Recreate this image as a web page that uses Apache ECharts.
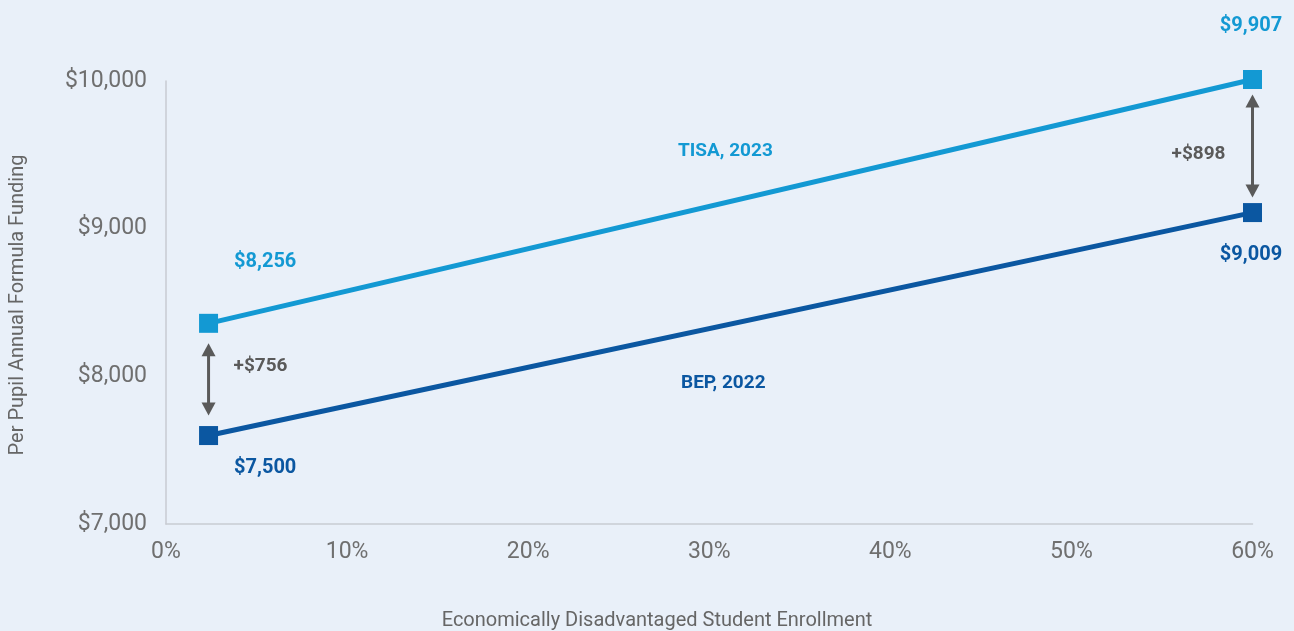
<!DOCTYPE html>
<html>
<head>
<meta charset="utf-8">
<script src="https://cdn.jsdelivr.net/npm/echarts@6/dist/echarts.min.js"></script>
<style>
html,body{margin:0;padding:0;background:#e9f0f9;}
#chart{width:1294px;height:631px;}
</style>
</head>
<body>
<div id="chart"></div>
<script>
// ---- data ----
const xValues = [2.35, 60];                 // % economically disadvantaged
const tisaValues = [8359, 10010];           // plotted positions
const bepValues = [7599, 9109];
const tisaLabels = ['$8,256', '$9,907'];
const bepLabels = ['$7,500', '$9,009'];
const diffLabels = ['+$756', '+$898'];
const seriesNames = ['TISA, 2023', 'BEP, 2022'];
const yTicks = [7000, 8000, 9000, 10000];
const xTicks = [0, 10, 20, 30, 40, 50, 60];
const xTitle = 'Economically Disadvantaged Student Enrollment';
const yTitle = 'Per Pupil Annual Formula Funding';

const TISA_COLOR = '#1399d3';
const BEP_COLOR = '#0b57a1';
const GRAY = '#5a5a5a';
const FONT = 'Roboto, "DejaVu Sans", sans-serif';

const chart = echarts.init(document.getElementById('chart'));

const tisaPosStyle = [
  {position: [35, -52], align: 'left'},
  {position: [8, -44], align: 'center'}
];
const bepPosStyle = [
  {position: [35, 42], align: 'left'},
  {position: [8, 52], align: 'center'}
];

function pts(vals, labels, posStyle, color) {
  return xValues.map((x, i) => ({
    value: [x, vals[i]],
    label: {
      show: true,
      formatter: labels[i],
      position: posStyle[i].position,
      align: posStyle[i].align,
      verticalAlign: 'middle',
      color: color,
      fontFamily: FONT,
      fontWeight: 'bold',
      fontSize: 20
    }
  }));
}

const arrowData = xValues.map((x, i) => [x, tisaValues[i], bepValues[i], i]);

chart.setOption({
  backgroundColor: '#e9f0f9',
  animation: false,
  grid: {left: 166, right: 41.5, top: 81, bottom: 107},
  xAxis: {
    type: 'value', min: 0, max: 60, interval: 10,
    axisLine: {show: true, lineStyle: {color: '#c7cbd2', width: 1.5}},
    axisTick: {show: false},
    splitLine: {show: false},
    axisLabel: {
      color: '#6f6f6f', fontSize: 23, fontFamily: FONT, margin: 17,
      formatter: v => xTicks.includes(v) ? v + '%' : ''
    }
  },
  yAxis: {
    type: 'value', min: 7000, max: 10000, interval: 1000,
    axisLine: {show: true, lineStyle: {color: '#c7cbd2', width: 1.5}},
    axisTick: {show: false},
    splitLine: {show: false},
    axisLabel: {
      color: '#6f6f6f', fontSize: 23, fontFamily: FONT, margin: 19,
      padding: [0, 0, 8, 0],
      formatter: v => yTicks.includes(v) ? '$' + v.toLocaleString('en-US') : ''
    }
  },
  series: [
    {
      name: seriesNames[0], type: 'line', clip: false,
      data: pts(tisaValues, tisaLabels, tisaPosStyle, TISA_COLOR),
      symbol: 'rect', symbolSize: 19,
      lineStyle: {color: TISA_COLOR, width: 5},
      itemStyle: {color: TISA_COLOR},
      z: 3
    },
    {
      name: seriesNames[1], type: 'line', clip: false,
      data: pts(bepValues, bepLabels, bepPosStyle, BEP_COLOR),
      symbol: 'rect', symbolSize: 19,
      lineStyle: {color: BEP_COLOR, width: 5},
      itemStyle: {color: BEP_COLOR},
      z: 3
    },
    {
      type: 'custom', clip: false,
      data: arrowData,
      z: 4,
      renderItem: function (params, api) {
        const i = api.value(3);
        const top = api.coord([api.value(0), api.value(1)]);
        const bot = api.coord([api.value(0), api.value(2)]);
        const gap = i === 0 ? 20 : 15;
        const x = top[0];
        const y1 = top[1] + gap, y2 = bot[1] - gap;
        const hw = 7, hl = 13;
        const midY = (y1 + y2) / 2;
        const txt = i === 0
          ? {x: x + 25, y: midY - 13, align: 'left'}
          : {x: x - 27, y: midY + 8, align: 'right'};
        return {
          type: 'group',
          children: [
            {type: 'line', shape: {x1: x, y1: y1 + hl - 1, x2: x, y2: y2 - hl + 1},
             style: {stroke: GRAY, lineWidth: 3}},
            {type: 'polygon', shape: {points: [[x, y1], [x - hw, y1 + hl], [x + hw, y1 + hl]]},
             style: {fill: GRAY}},
            {type: 'polygon', shape: {points: [[x, y2], [x - hw, y2 - hl], [x + hw, y2 - hl]]},
             style: {fill: GRAY}},
            {type: 'text', style: {
              text: diffLabels[i], x: txt.x, y: txt.y, align: txt.align, verticalAlign: 'middle',
              fill: GRAY, font: 'bold 19px ' + FONT}}
          ]
        };
      }
    }
  ],
  graphic: [
    {type: 'text', left: 678, top: 142, style: {text: seriesNames[0], fill: TISA_COLOR, font: 'bold 19px ' + FONT}},
    {type: 'text', left: 681, top: 374, style: {text: seriesNames[1], fill: BEP_COLOR, font: 'bold 19px ' + FONT}},
    {type: 'text', x: 657, y: 621, style: {text: xTitle, fill: '#666', font: '20px ' + FONT, align: 'center', verticalAlign: 'middle'}},
    {type: 'text', x: 18, y: 305, rotation: Math.PI / 2, style: {text: yTitle, fill: '#666', font: '20px ' + FONT, align: 'center', verticalAlign: 'middle'}}
  ]
});
</script>
</body>
</html>
